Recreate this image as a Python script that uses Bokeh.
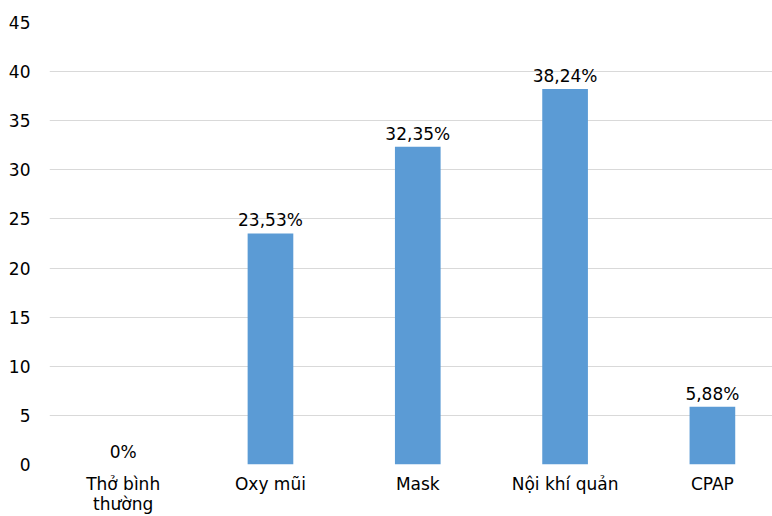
from bokeh.plotting import figure
from bokeh.models import ColumnDataSource, Range1d, FixedTicker
from bokeh.core.properties import value
from bokeh.embed import file_html
from bokeh.resources import INLINE

categories = ["Thở bình\nthường", "Oxy mũi", "Mask", "Nội khí quản", "CPAP"]
values = [0, 23.53, 32.35, 38.24, 5.88]
labels = ["0%", "23,53%", "32,35%", "38,24%", "5,88%"]
y_ticks = [0, 5, 10, 15, 20, 25, 30, 35, 40, 45]

xs = list(range(len(categories)))
src = ColumnDataSource(dict(x=xs, top=values, label=labels))

FONT = "DejaVu Sans"
FS = "17px"

p = figure(width=772, height=516, output_backend="svg", toolbar_location=None,
           x_range=Range1d(-0.5, 4.408), y_range=Range1d(0, 45),
           min_border_left=49, min_border_right=0, min_border_top=22, min_border_bottom=52)
p.outline_line_color = None
p.background_fill_color = "white"

p.vbar(x="x", top="top", width=0.31, source=src, fill_color="#5b9bd5", line_color=None)
p.text(x="x", y="top", text="label", source=src, text_align="center", text_baseline="bottom",
       y_offset=-3, text_font=value(FONT), text_font_size=FS, text_color="#000000")

p.xgrid.visible = False
p.ygrid.grid_line_color = "#d9d9d9"
p.ygrid.grid_line_width = 1

p.yaxis.ticker = FixedTicker(ticks=y_ticks)
p.yaxis.axis_line_color = None
p.yaxis.major_tick_line_color = None
p.yaxis.minor_tick_line_color = None
p.yaxis.major_label_text_font = FONT
p.yaxis.major_label_text_font_size = FS
p.yaxis.major_label_text_color = "#000000"
p.yaxis.major_label_standoff = 13

p.xaxis.ticker = FixedTicker(ticks=xs)
p.xaxis.major_label_overrides = {i: c for i, c in enumerate(categories)}
p.xaxis.axis_line_color = None
p.xaxis.major_tick_line_color = None
p.xaxis.minor_tick_line_color = None
p.xaxis.major_label_text_font = FONT
p.xaxis.major_label_text_font_size = FS
p.xaxis.major_label_text_color = "#000000"
p.xaxis.major_label_text_line_height = 1.02
p.xaxis.major_label_standoff = 9
p.xaxis.major_tick_out = 0
p.xaxis.major_tick_in = 0

open("out.html", "w").write(file_html(p, INLINE))
